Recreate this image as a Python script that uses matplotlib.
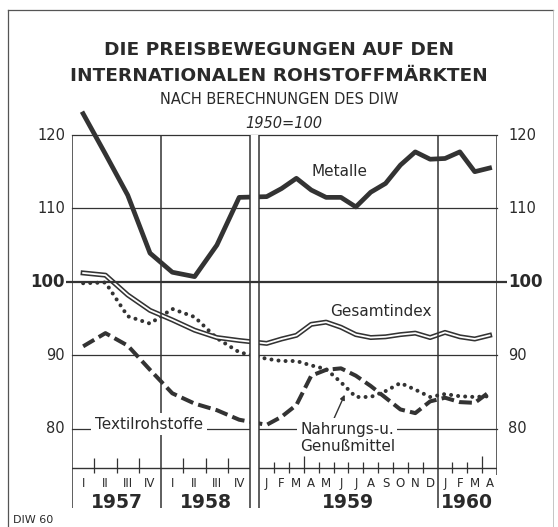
import numpy as np
import matplotlib
matplotlib.use("Agg")
import matplotlib.pyplot as plt
from matplotlib.lines import Line2D

# 1950 = 100, quarterly values 1957-1958
quarters = ["I", "II", "III", "IV", "I", "II", "III", "IV"]
metalle_q = [122.9, 117.4, 111.8, 103.9, 101.3, 100.7, 105.0, 111.5]
gesamt_q = [101.2, 100.9, 98.2, 96.1, 94.8, 93.4, 92.4, 92.0]
nahrung_q = [99.8, 99.9, 95.3, 94.3, 96.3, 95.2, 92.3, 90.4]
textil_q = [91.2, 93.0, 91.3, 88.0, 84.8, 83.4, 82.5, 81.2]

# monthly values Jan 1959 - Apr 1960
months = ["J", "F", "M", "A", "M", "J", "J", "A", "S", "O", "N", "D",
          "J", "F", "M", "A"]
metalle_m = [111.6, 112.7, 114.1, 112.5, 111.5, 111.5, 110.2, 112.2,
             113.4, 115.9, 117.7, 116.7, 116.8, 117.7, 115.0, 115.5]
gesamt_m = [91.6, 92.2, 92.7, 94.2, 94.5, 93.8, 92.8, 92.4,
            92.5, 92.8, 93.0, 92.4, 93.1, 92.5, 92.2, 92.7]
nahrung_m = [89.5, 89.2, 89.2, 88.6, 88.1, 86.3, 84.3, 84.3,
             85.1, 86.2, 85.3, 84.3, 84.7, 84.4, 84.3, 84.4]
textil_m = [80.5, 81.6, 83.2, 87.2, 88.0, 88.2, 87.2, 85.8,
            84.2, 82.6, 82.1, 83.7, 84.2, 83.6, 83.5, 85.0]

years = ["1957", "1958", "1959", "1960"]
yticks = [80, 90, 100, 110, 120]

dark = "#333333"
ink = "#2a2a2a"

# x layout: one month = 1 unit, one quarter = 1.5 units, small gap between panels
q_w = 1.5
gap = 0.6
left_end = q_w * len(quarters)
right_start = left_end + gap
right_end = right_start + len(months)
qx = q_w * (np.arange(len(quarters)) + 0.5)
mx = right_start + np.arange(len(months)) + 0.5
xs = np.concatenate([qx, mx])

y_bottom = 69.17
y_axis = 74.62

fig = plt.figure(figsize=(5.58, 5.27), dpi=100)
fig.patch.set_facecolor("white")
ax = fig.add_axes([72 / 558, 1 - 508 / 527, 425 / 558, (508 - 135) / 527])
ax.set_xlim(0, right_end)
ax.set_ylim(y_bottom, 120)
ax.axis("off")

# grid
for v in yticks:
    if v == 100:
        continue
    ax.axhline(v, color=dark, lw=0.9, zorder=1, clip_on=False)
ax.hlines(100, -0.4, right_end + 0.67, color=dark, lw=1.6, zorder=3.5,
          clip_on=False)
ax.axhline(y_axis, color=dark, lw=1.0, zorder=1)

# series
ax.plot(xs, metalle_q + metalle_m, color=dark, lw=3.4,
        solid_joinstyle="round", zorder=2, clip_on=False)
ax.plot(xs, gesamt_q + gesamt_m, color=dark, lw=3.6,
        solid_joinstyle="round", zorder=2)
ax.plot(xs, gesamt_q + gesamt_m, color="white", lw=1.3,
        solid_joinstyle="round", zorder=2.1)
ax.plot(xs, nahrung_q + nahrung_m, color=dark, lw=2.9,
        linestyle=(0, (0.01, 1.75)), dash_capstyle="round", zorder=2)
ax.plot(xs, textil_q + textil_m, color=dark, lw=2.9,
        linestyle=(0, (3.2, 1.3)), dash_capstyle="butt", zorder=2)

# gap between the two panels
ax.axvspan(left_end, right_start, color="white", lw=0, zorder=3)

# frame and dividers
for xv in [0, left_end / 2, left_end, right_start, right_start + 12]:
    ax.axvline(xv, color=dark, lw=1.1, zorder=4)
ax.vlines(right_end, 73.6, 120, color=dark, lw=1.1, zorder=4)

# ticks on the time axis
for k in [1, 2, 3, 5, 6, 7]:
    ax.vlines(k * q_w, 73.9, 76.0, color=dark, lw=0.9, zorder=4)
for k in list(range(1, 12)) + [13, 14, 15]:
    top = 76.3 if k in (3, 15) else 75.4
    ax.vlines(right_start + k, 73.9, top, color=dark, lw=0.9, zorder=4)

for x, lab in zip(qx, quarters):
    ax.text(x, 72.55, lab, ha="center", va="center", fontsize=8.5,
            color=ink)
for x, lab in zip(mx, months):
    ax.text(x, 72.55, lab, ha="center", va="center", fontsize=8.5,
            color=ink)

year_x = [left_end / 4, 3 * left_end / 4, right_start + 6, right_start + 14]
for x, lab in zip(year_x, years):
    ax.text(x, 69.95, lab, ha="center", va="center", fontsize=13.5,
            fontweight="bold", color=ink)

# y labels on both sides
for v in yticks:
    bold = v == 100
    kw = dict(va="center", color=ink, fontsize=12 if bold else 10.5,
              fontweight="bold" if bold else "normal")
    ax.text(-0.47, v, str(v), ha="right", **kw)
    ax.text(right_end + 0.74, v, str(v), ha="left", **kw)

# series labels
box = dict(fc="white", ec="none", pad=2.5)
ax.text(18.03, 114.96, "Metalle", ha="center", va="center", fontsize=11,
        color=ink)
ax.text(20.8, 95.9, "Gesamtindex", ha="center", va="center", fontsize=11,
        color=ink)
ax.text(5.18, 80, "Textilrohstoffe", ha="center", va="baseline",
        fontsize=11, color=ink, bbox=box, zorder=5)
ax.text(18.5, 79.9, "Nahrungs-u.", ha="center", va="center", fontsize=11,
        color=ink, bbox=box, zorder=5)
ax.text(18.55, 77.6, "Genußmittel", ha="center", va="center", fontsize=11,
        color=ink, zorder=5)
ax.annotate("", xy=(18.35, 84.6), xytext=(17.55, 81.0),
            arrowprops=dict(arrowstyle="-|>", lw=1.0, color=dark,
                            mutation_scale=7, shrinkA=0, shrinkB=0))

# titles
fig.text(0.5, 1 - 50 / 527, "DIE PREISBEWEGUNGEN AUF DEN", ha="center",
         va="center", fontsize=13.3, fontweight="bold", color=ink)
fig.text(0.5, 1 - 76 / 527, "INTERNATIONALEN ROHSTOFFMÄRKTEN",
         ha="center", va="center", fontsize=13.3, fontweight="bold",
         color=ink)
fig.text(0.5, 1 - 99 / 527, "NACH BERECHNUNGEN DES DIW", ha="center",
         va="center", fontsize=10.5, color=ink)
fig.text(284 / 558, 1 - 123 / 527, "1950=100", ha="center", va="center",
         fontsize=10.5, style="italic", color=ink)
fig.text(13 / 558, 1 - 520 / 527, "DIW 60", ha="left", va="center",
         fontsize=8, color=ink)

# outer border of the picture
fig.add_artist(Line2D([8 / 558, 8 / 558], [0, 1 - 10 / 527], color="#555555",
                      lw=0.9))
fig.add_artist(Line2D([8 / 558, 553 / 558], [1 - 10 / 527, 1 - 10 / 527],
                      color="#555555", lw=0.9))
fig.add_artist(Line2D([553 / 558, 553 / 558], [0, 1 - 10 / 527],
                      color="#bbbbbb", lw=0.6))

fig.savefig("out.png", dpi=100, facecolor="white")
